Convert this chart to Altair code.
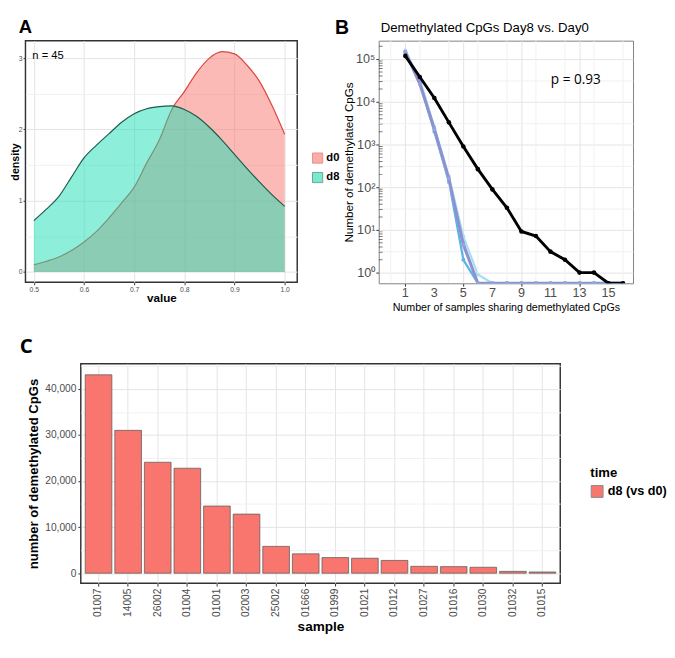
import altair as alt
import pandas as pd

FONT = "Liberation Sans"

# ---------------- Panel A: density of values ----------------
dens_x = [0.5, 0.525, 0.55, 0.575, 0.6, 0.625, 0.65, 0.675, 0.7, 0.725, 0.75,
          0.775, 0.8, 0.825, 0.85, 0.875, 0.9, 0.925, 0.95, 0.975, 1.0]
d0_density = [0.10, 0.15, 0.21, 0.30, 0.42, 0.57, 0.76, 0.97, 1.19, 1.53, 1.85,
              2.28, 2.53, 2.80, 3.00, 3.09, 3.06, 2.90, 2.67, 2.33, 1.93]
d8_density = [0.72, 0.88, 1.06, 1.33, 1.60, 1.78, 1.94, 2.10, 2.22, 2.29, 2.32,
              2.33, 2.28, 2.18, 2.03, 1.85, 1.65, 1.45, 1.26, 1.08, 0.92]
groups = ["d0", "d8"]
group_fill = ["#F8766D", "#1CDDB4"]
group_line = ["#D9473F", "#1E5B4E"]
a_x_ticks = [0.5, 0.55, 0.6, 0.65, 0.7, 0.75, 0.8, 0.85, 0.9, 0.95, 1.0]
a_y_ticks = [0, 0.5, 1, 1.5, 2, 2.5, 3]

# ---------------- Panel B: sharing of demethylated CpGs ----------------
share_n = list(range(1, 17))
observed = [119000, 38000, 12300, 3300, 900, 265, 89, 33, 9.2, 7.2, 3.1, 2.0, 1.0, 1.0, 0, 0]
perm_a = [140000, 28000, 2000, 140, 2.0, 0, 0, 0, 0, 0, 0, 0, 0, 0, 0, 0]
perm_b = [160000, 32000, 2600, 180, 7.0, 0.9, 0, 0, 0, 0, 0, 0, 0, 0, 0, 0]
perm_c = [145000, 30000, 2400, 130, 5.0, 0, 0, 0, 0, 0, 0, 0, 0, 0, 0, 0]
perm_mean = [150000, 26000, 2300, 160, 4.5, 0, 0, 0, 0, 0, 0, 0, 0, 0, 0, 0]
perm_names = ["perm a", "perm b", "perm c"]
perm_colors = ["#5AB4E4", "#A9DDF3", "#7CC6EC"]
b_floor = 10 ** -0.25
b_top = 10 ** 5.432
b_x_labels = [1, 3, 5, 7, 9, 11, 13, 15]
b_x_minor = [0, 2, 4, 6, 8, 10, 12, 14, 16]
b_y_values = [10 ** (k / 2) for k in range(0, 11)]
b_minor = [m * 10 ** e for e in range(0, 6) for m in range(2, 10)]

# ---------------- Panel C: per-sample counts ----------------
samples = ["01007", "14005", "26002", "01004", "01001", "02003", "25002", "01666",
           "01999", "01021", "01012", "01027", "01016", "01030", "01032", "01015"]
counts = [43050, 31000, 24070, 22780, 14570, 12820, 5820, 4200,
          3380, 3250, 2770, 1490, 1420, 1280, 400, 260]
c_y_ticks = [0, 5000, 10000, 15000, 20000, 25000, 30000, 35000, 40000, 45000]

GRID_MAJOR = "#e3e3e3"
GRID_MINOR = "#f1f1f1"
LABEL_GREY = "#4d4d4d"

# ======================= Panel A =======================
nA = len(dens_x)
dfA = pd.DataFrame({
    "value": dens_x * 2,
    "density": d0_density + d8_density,
    "grp": ["d0"] * nA + ["d8"] * nA,
})

xA = alt.X("value:Q", title="value",
           scale=alt.Scale(domain=[0.4833, 1.025], nice=False, zero=False),
           axis=alt.Axis(values=a_x_ticks, labelOverlap=False,
                         labelExpr="abs(datum.value*10 - round(datum.value*10)) < 0.001 ? format(datum.value, '.1f') : ''",
                         labelFontSize=7, labelColor=LABEL_GREY, labelPadding=1,
                         tickSize=2.5, tickColor="#333333",
                         tickOpacity={"condition": {"test": "abs(datum.value*10 - round(datum.value*10)) < 0.001", "value": 1}, "value": 0},
                         gridColor={"condition": {"test": "abs(datum.value*10 - round(datum.value*10)) < 0.001", "value": GRID_MAJOR}, "value": GRID_MINOR},
                         domain=False, titleFontSize=12, titleFontWeight="bold",
                         titleColor="black", titlePadding=0))
yA = alt.Y("density:Q", title="density",
           scale=alt.Scale(domain=[-0.146, 3.245], nice=False, zero=False),
           axis=alt.Axis(values=a_y_ticks, labelOverlap=False,
                         labelExpr="datum.value % 1 == 0 ? format(datum.value, 'd') : ''",
                         labelFontSize=7, labelColor=LABEL_GREY, labelPadding=1,
                         tickSize=2.5, tickColor="#333333",
                         tickOpacity={"condition": {"test": "datum.value % 1 == 0", "value": 1}, "value": 0},
                         gridColor={"condition": {"test": "datum.value % 1 == 0", "value": GRID_MAJOR}, "value": GRID_MINOR},
                         domain=False, titleFontSize=11, titleFontWeight="bold",
                         titleColor="black", titlePadding=-2))
fillA = alt.Fill("grp:N", scale=alt.Scale(domain=groups, range=group_fill),
                 legend=alt.Legend(title=None, orient="none", legendX=295, legendY=115,
                                   symbolType="square", symbolSize=110,
                                   labelFontSize=11.5, labelFontWeight="bold", labelFont=FONT,
                                   labelColor="black", rowPadding=4, labelOffset=3,
                                   symbolStrokeWidth=1, symbolOpacity=0.6,
                                   symbolStrokeColor={"expr": "datum.value == 'd0' ? '#D9473F' : '#1E5B4E'"}))


def density_layer(g, line_color):
    base = alt.Chart(dfA).transform_filter(f"datum.grp == '{g}'")
    area = base.mark_area(fillOpacity=0.5, clip=True, interpolate="monotone").encode(
        x=xA, y=yA, y2=alt.datum(0), fill=fillA)
    line = base.mark_line(color=line_color, strokeWidth=1.2, clip=True, interpolate="monotone").encode(x=xA, y=yA)
    return [area, line]


n_text = alt.Chart(pd.DataFrame({"t": ["n = 45"]})).mark_text(
    align="left", baseline="middle", fontSize=11.5, font=FONT, color="black"
).encode(x=alt.datum(0.497), y=alt.datum(3.03), text="t:N")

labelA = alt.Chart(pd.DataFrame({"t": ["A"]})).mark_text(
    align="left", baseline="top", fontSize=19, fontWeight="bold", font=FONT, color="black"
).encode(x=alt.value(-7), y=alt.value(-23), text="t:N")

chartA = alt.layer(
    *density_layer("d0", group_line[0]),
    *density_layer("d8", group_line[1]),
    n_text, labelA,
).properties(width=280, height=249,
             view=alt.ViewBackground(stroke="#333333", strokeWidth=1.5))

# ======================= Panel B =======================
rows = []
for name, vals in zip(["observed", "perm mean"] + perm_names, [observed, perm_mean, perm_a, perm_b, perm_c]):
    for n, v in zip(share_n, vals):
        rows.append({"n": n, "count": v if v > 0 else b_floor, "series": name})
dfB = pd.DataFrame(rows)

b_x_scale = alt.Scale(domain=[-0.83, 16.69], nice=False, zero=False)
b_y_scale = alt.Scale(type="log", domain=[b_floor, b_top], nice=False, zero=False)

xB = alt.X("n:Q", title="Number of samples sharing demethylated CpGs", scale=b_x_scale,
           axis=alt.Axis(values=b_x_labels, labels=False,
                         tickSize=3, tickColor="#333333", gridColor=GRID_MAJOR,
                         domain=False, titleFontSize=11, titleFontWeight="normal",
                         titleColor="black", titlePadding=16))
yB = alt.Y("count:Q", title="Number of demethylated CpGs", scale=b_y_scale,
           axis=alt.Axis(values=b_y_values, labelOverlap=False,
                         labelExpr="abs(log(datum.value)/LN10 - round(log(datum.value)/LN10)) < 0.01 ? '10' + ['\u2070','\u00b9','\u00b2','\u00b3','\u2074','\u2075'][round(log(datum.value)/LN10)] : ''",
                         labelFontSize=13, labelColor=LABEL_GREY, labelPadding=1,
                         tickSize=3, tickColor="#333333",
                         tickOpacity={"condition": {"test": "abs(log(datum.value)/LN10 - round(log(datum.value)/LN10)) < 0.01", "value": 1}, "value": 0},
                         gridColor={"condition": {"test": "abs(log(datum.value)/LN10 - round(log(datum.value)/LN10)) < 0.01", "value": GRID_MAJOR}, "value": GRID_MINOR},
                         domain=False, titleFontSize=12, titleFontWeight="normal",
                         titleColor="black", titlePadding=0))

minor_grid_x = alt.Chart(pd.DataFrame({"n": b_x_minor})).mark_rule(
    color=GRID_MINOR, strokeWidth=1, clip=True
).encode(x=alt.X("n:Q", scale=b_x_scale))

x_tick_labels = alt.Chart(pd.DataFrame({"n": b_x_labels})).mark_text(
    baseline="top", align="center", fontSize=13, font=FONT, color=LABEL_GREY
).encode(x=alt.X("n:Q", scale=b_x_scale), y=alt.value(254), text=alt.Text("n:Q", format="d"))

minor_ticks = alt.Chart(pd.DataFrame({"count": [m for m in b_minor if m < b_top]})).mark_tick(
    orient="horizontal", size=8, thickness=1, color="#444444", clip=True
).encode(x=alt.datum(-0.83), y=alt.Y("count:Q", scale=b_y_scale))

dfPerm = dfB[dfB["series"].isin(perm_names)]
perm_color = alt.Color("series:N", scale=alt.Scale(domain=perm_names, range=perm_colors), legend=None)
perm_lines = alt.Chart(dfPerm).mark_line(strokeWidth=2.3, clip=True).encode(x=xB, y=yB, color=perm_color, detail="series:N")
perm_pts = alt.Chart(dfPerm).mark_circle(size=16, opacity=1, clip=True).encode(x=xB, y=yB, color=perm_color)

dfMean = dfB[dfB["series"] == "perm mean"]
mean_line = alt.Chart(dfMean).mark_line(strokeWidth=3, color="#8E90D0", clip=True).encode(x=xB, y=yB)
mean_pts = alt.Chart(dfMean).mark_circle(size=16, opacity=1, color="#9C9FD8", clip=True).encode(x=xB, y=yB)

dfObs = dfB[dfB["series"] == "observed"]
obs_line = alt.Chart(dfObs).mark_line(strokeWidth=3, color="black", clip=True).encode(x=xB, y=yB)
obs_pts = alt.Chart(dfObs).mark_circle(size=22, opacity=1, color="black", clip=True).encode(x=xB, y=yB)

p_text = alt.Chart(pd.DataFrame({"t": ["p = 0.93"]})).mark_text(
    align="center", baseline="middle", fontSize=14, font="Open Sans", color="black"
).encode(x=alt.datum(12.75), y=alt.datum(31600), text="t:N")

labelB = alt.Chart(pd.DataFrame({"t": ["B"]})).mark_text(
    align="left", baseline="top", fontSize=20, fontWeight="bold", font=FONT, color="black"
).encode(x=alt.value(-45), y=alt.value(-23), text="t:N")

titleB = alt.Chart(pd.DataFrame({"t": ["Demethylated CpGs Day8 vs. Day0"]})).mark_text(
    align="left", baseline="alphabetic", fontSize=13.6, font=FONT, color="black"
).encode(x=alt.value(2), y=alt.value(-9), text="t:N")

chartB = alt.layer(
    perm_lines, minor_grid_x, perm_pts, mean_line, mean_pts, obs_line, obs_pts, minor_ticks,
    x_tick_labels, p_text, labelB, titleB
).properties(
    width=262, height=250,
    view=alt.ViewBackground(stroke="#7f7f7f", strokeWidth=1),
)

# ======================= Panel C =======================
dfC = pd.DataFrame({"sample": samples, "count": counts, "time": ["d8 (vs d0)"] * len(samples)})

xC = alt.X("sample:N", sort=samples, title="sample",
           scale=alt.Scale(paddingInner=0.1, paddingOuter=0.15),
           axis=alt.Axis(labelAngle=-90, labelFontSize=10.5, labelColor=LABEL_GREY, labelFont=FONT,
                         labelPadding=2, tickSize=3, tickColor="#333333", bandPosition=0.5,
                         grid=True, gridColor=GRID_MAJOR, domain=False, labelOverlap=False,
                         titleFontSize=14, titleFontWeight="bold", titleColor="black", titlePadding=4))
yC = alt.Y("count:Q", title="number of demethylated CpGs",
           scale=alt.Scale(domain=[-2170, 45430], nice=False, zero=False),
           axis=alt.Axis(values=c_y_ticks, labelOverlap=False,
                         labelExpr="datum.value % 10000 == 0 ? format(datum.value, ',') : ''",
                         labelFontSize=10.5, labelColor=LABEL_GREY, labelPadding=2,
                         tickSize=3, tickColor="#333333",
                         tickOpacity={"condition": {"test": "datum.value % 10000 == 0", "value": 1}, "value": 0},
                         gridColor={"condition": {"test": "datum.value % 10000 == 0", "value": GRID_MAJOR}, "value": GRID_MINOR},
                         domain=False, titleFontSize=13.5, titleFontWeight="bold",
                         titleColor="black", titlePadding=4))

bars = alt.Chart(dfC).mark_bar(stroke="#5f5f5f", strokeWidth=0.8).encode(
    x=xC, y=yC, y2=alt.datum(0),
    fill=alt.Fill("time:N", scale=alt.Scale(range=["#F8766D"]),
                  legend=alt.Legend(title="time", orient="none", legendX=582, legendY=106,
                                    titleFontSize=13.5, titleFontWeight="bold", titleFont=FONT,
                                    titleColor="black", titlePadding=5,
                                    labelFontSize=13, labelFontWeight="bold", labelFont=FONT,
                                    labelColor="black", labelOffset=4,
                                    symbolType="square", symbolSize=150,
                                    symbolStrokeColor="#8a8a8a", symbolStrokeWidth=1)))

labelC = alt.Chart(pd.DataFrame({"t": ["C"]})).mark_text(
    align="left", baseline="alphabetic", fontSize=21, fontWeight="bold", font="Open Sans", color="black"
).encode(x=alt.value(-63), y=alt.value(-11), text="t:N")

chartC = alt.layer(bars, labelC).properties(
    width=494, height=226,
    view=alt.ViewBackground(stroke="#333333", strokeWidth=1.5),
)

spacer = alt.Chart(pd.DataFrame({"a": [0]})).mark_point(opacity=0).encode(
    x=alt.value(0), y=alt.value(0)
).properties(width=37, height=10, view=alt.ViewBackground(stroke="transparent"))

top_row = alt.hconcat(chartA, chartB, spacing=84, bounds="flush")
bottom_row = alt.hconcat(spacer, chartC, spacing=20, bounds="flush")

chart = alt.vconcat(top_row, bottom_row, spacing=23).properties(
    padding={"left": 0, "top": 0, "right": 0, "bottom": 0}
).configure(font=FONT).configure_axis(labelFont=FONT, titleFont=FONT).resolve_scale(
    x="independent", y="independent", color="independent", fill="independent"
)

chart.save("out.html", embed_options={"renderer": "svg", "actions": False})
